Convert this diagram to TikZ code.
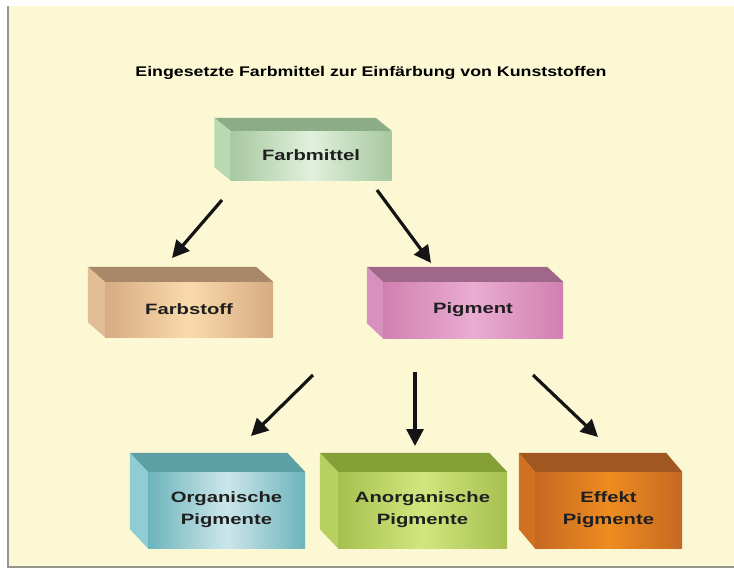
\documentclass[tikz,border=0pt]{standalone}
\usepackage{fontspec}
\setmainfont{Liberation Sans}
\newfontfamily\breitfont[FakeStretch=1.35]{Liberation Sans}
\newfontfamily\titelfont[FakeStretch=1.27]{Liberation Sans}
\usetikzlibrary{arrows.meta,calc}

\definecolor{hinter}{RGB}{252,248,212}
\definecolor{rahmen}{RGB}{150,150,140}
% farben der kloetze: rand, mitte, oben, seite
\definecolor{gruenrand}{RGB}{166,200,160}\definecolor{gruenmitte}{RGB}{226,240,220}
\definecolor{gruenoben}{RGB}{140,172,136}\definecolor{gruenseite}{RGB}{186,216,178}
\definecolor{tanrand}{RGB}{214,172,130}\definecolor{tanmitte}{RGB}{250,218,170}
\definecolor{tanoben}{RGB}{168,136,104}\definecolor{tanseite}{RGB}{226,190,150}
\definecolor{rosarand}{RGB}{208,128,176}\definecolor{rosamitte}{RGB}{234,172,210}
\definecolor{rosaoben}{RGB}{160,104,136}\definecolor{rosaseite}{RGB}{216,144,190}
\definecolor{tuerkisrand}{RGB}{108,180,188}\definecolor{tuerkismitte}{RGB}{204,230,234}
\definecolor{tuerkisoben}{RGB}{92,160,166}\definecolor{tuerkisseite}{RGB}{144,204,212}
\definecolor{limerand}{RGB}{166,192,80}\definecolor{limemitte}{RGB}{210,230,126}
\definecolor{limeoben}{RGB}{134,160,56}\definecolor{limeseite}{RGB}{184,208,96}
\definecolor{orangerand}{RGB}{198,104,34}\definecolor{orangemitte}{RGB}{238,140,32}
\definecolor{orangeoben}{RGB}{160,88,32}\definecolor{orangeseite}{RGB}{208,112,32}

\tikzset{
  klotz/.style={rectangle, inner sep=0pt, align=center, text=black!88,
    font=\breitfont\bfseries\fontsize{15}{22}\selectfont,
    left color=#1rand, right color=#1rand, middle color=#1mitte},
  pfeil/.style={-{Triangle[length=17pt,width=17pt]}, line width=3.2pt, black!92}
}

% oberseite und linke seite eines klotzes
\newcommand{\klotzseiten}[3]{%
  \fill[#3oben] (#1.north west) -- ++(#2) -- ($(#1.north east)+(#2)$) -- (#1.north east) -- cycle;
  \fill[#3seite] (#1.north west) -- ++(#2) -- ($(#1.south west)+(#2)$) -- (#1.south west) -- cycle;
}

\begin{document}
\begin{tikzpicture}[x=1pt, y=-1pt]  % farbmittel uebersicht
	\useasboundingbox (0,0) rectangle (734,570);
	\fill[hinter] (8,6) rectangle (734,567);
	\draw[rahmen, line width=1.5pt] (8,6) -- (8,567) -- (734,567);

	\node[font=\titelfont\bfseries\fontsize{14}{16}\selectfont] (titel) at (371,73)
		{Eingesetzte Farbmittel zur Einfärbung von Kunststoffen};

	\node[klotz=gruen, minimum width=161pt, minimum height=49pt] (farbmittel) at (311,155.5) {Farbmittel};
	\node[klotz=tan, minimum width=168pt, minimum height=55pt] (farbstoff) at (189,309.5) {Farbstoff};
	\node[klotz=rosa, minimum width=180pt, minimum height=56pt] (pigment) at (473,310) {Pigment};
	\node[klotz=tuerkis, minimum width=157pt, minimum height=76pt] (organisch) at (226.5,510) {Organische\\Pigmente};
	\node[klotz=lime, minimum width=169pt, minimum height=76pt] (anorganisch) at (422.5,510) {Anorganische\\Pigmente};
	\node[klotz=orange, minimum width=147pt, minimum height=76pt] (effekt) at (608.5,510) {Effekt\\Pigmente};

	\klotzseiten{farbmittel}{-16,-13}{gruen}
	\klotzseiten{farbstoff}{-17,-15}{tan}
	\klotzseiten{pigment}{-16,-15}{rosa}
	\klotzseiten{organisch}{-18,-19}{tuerkis}
	\klotzseiten{anorganisch}{-18,-19}{lime}
	\klotzseiten{effekt}{-16,-19}{orange}

	\coordinate (p1a) at (222,200); \coordinate (p1b) at (172,258);
	\coordinate (p2a) at (377,190); \coordinate (p2b) at (431,263);
	\coordinate (p3a) at (313,375); \coordinate (p3b) at (251,436);
	\coordinate (p4a) at (415,372); \coordinate (p4b) at (415,446);
	\coordinate (p5a) at (533,375); \coordinate (p5b) at (598,437);
	\draw[pfeil] (p1a) -- (p1b);
	\draw[pfeil] (p2a) -- (p2b);
	\draw[pfeil] (p3a) -- (p3b);
	\draw[pfeil] (p4a) -- (p4b);
	\draw[pfeil] (p5a) -- (p5b);
\end{tikzpicture}
\end{document}
